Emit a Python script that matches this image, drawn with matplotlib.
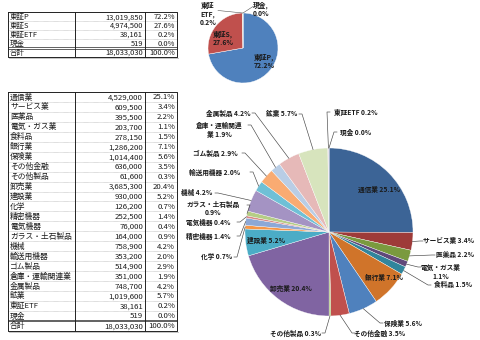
import matplotlib
matplotlib.use("Agg")
import matplotlib.pyplot as plt
import numpy as np

plt.rcParams['font.family'] = ['Noto Sans CJK JP', 'DejaVu Sans']

# ---------------- data ----------------
market_labels = ['東証P', '東証S', '東証ETF', '現金']
market_values = [13019850, 4974500, 38161, 519]

sector_labels = ['通信業', 'サービス業', '医薬品', '電気・ガス業', '食料品', '銀行業',
                 '保険業', 'その他金融', 'その他製品', '卸売業', '建設業', '化学',
                 '精密機器', '電気機器', 'ガラス・土石製品', '機械', '輸送用機器',
                 'ゴム製品', '倉庫・運輸関連業', '金属製品', '鉱業', '東証ETF', '現金']
sector_values = [4529000, 609500, 395500, 203700, 278150, 1286200,
                 1014400, 636000, 61600, 3685300, 930000, 126200,
                 252500, 76000, 164000, 758900, 353200,
                 514900, 351000, 748700, 1019600, 38161, 519]
total_label = '合計'

# ---------------- styles / layout ----------------
market_colors = ['#4F81BD', '#C0504D', '#9BBB59', '#8064A2']
sector_colors = ['#3C6496', '#9E3B39', '#7A9A3E', '#60497A', '#31859C', '#D0742A',
                 '#4F81BD', '#C0504D', '#9BBB59', '#8064A2', '#4BACC6', '#F79646',
                 '#8DA8D6', '#D98886', '#B5CD85', '#A493C3', '#6FC0D6', '#F9AB72',
                 '#B9CDE5', '#E6B9B8', '#D7E4BD', '#CCC1DA', '#B7DEE8']

W, H = 480, 340
fig = plt.figure(figsize=(4.8, 3.4), dpi=100)
ax = fig.add_axes([0, 0, 1, 1])


def Y(py):
    return H - py


TXT = '#1a1a1a'


def draw_table(y0, row_h, names, values, fs):
    total = sum(values)
    cols = [8, 75, 145, 177]
    allnames = list(names) + [total_label]
    allvals = list(values) + [total]
    n = len(allnames)
    for i, (nm, v) in enumerate(zip(allnames, allvals)):
        yc = y0 + (i + 0.55) * row_h
        ax.text(cols[0] + 2, Y(yc), nm, ha='left', va='center', fontsize=fs, color=TXT)
        ax.text(cols[2] - 2, Y(yc), f"{v:,}", ha='right', va='center', fontsize=fs, color=TXT)
        ax.text(cols[3] - 2, Y(yc), f"{v / total * 100:.1f}%", ha='right', va='center',
                fontsize=fs, color=TXT)
    y1 = y0 + n * row_h
    for i in range(1, n - 1):
        yy = Y(y0 + i * row_h)
        ax.plot([cols[0], cols[3]], [yy, yy], color='#9a9a9a', lw=0.4, ls=(0, (1, 1)))
    yt = y0 + (n - 1) * row_h
    ax.plot([cols[0], cols[3]], [Y(yt - 0.6), Y(yt - 0.6)], color='#222', lw=0.5)
    ax.plot([cols[0], cols[3]], [Y(yt + 0.6), Y(yt + 0.6)], color='#222', lw=0.5)
    for c in cols[1:3]:
        ax.plot([c, c], [Y(y0), Y(y1)], color='#222', lw=0.7)
    ax.plot([cols[0], cols[3], cols[3], cols[0], cols[0]],
            [Y(y0), Y(y0), Y(y1), Y(y1), Y(y0)], color='#222', lw=0.7)
    ax.plot([cols[0] + 1, cols[3] + 1], [Y(y1 + 1), Y(y1 + 1)], color='#bbbbbb', lw=0.6)


draw_table(12.3, 8.9, market_labels, market_values, 5.4)
draw_table(92.0, 9.95, sector_labels, sector_values, 5.6)

# ---------------- small pie ----------------
mtot = sum(market_values)
c1 = (243, Y(48))
r1 = 35
w1, _ = ax.pie(market_values, colors=market_colors, startangle=90, counterclock=False,
               center=c1, radius=r1, frame=True,
               wedgeprops=dict(edgecolor='white', linewidth=0.3))

small_layout = [  # text centre (px), line start (px) or None, wrapped name
    ((264, 61.5), None, None),
    ((223, 38), None, None),
    ((208, 14), (218, 10.5), '東証\nETF'),
    ((261, 9), (253, 6.5), None),
]
for i, (nm, v) in enumerate(zip(market_labels, market_values)):
    (tx, ty), ls, wrapped = small_layout[i]
    name = wrapped if wrapped else nm
    txt = f"{name},\n{v / mtot * 100:.1f}%"
    ax.text(tx, Y(ty), txt, ha='center', va='center', fontsize=4.9, fontweight='bold',
            color='#1a1a1a', linespacing=1.15)
    if ls is not None:
        w = w1[i]
        mid = np.deg2rad((w.theta1 + w.theta2) / 2)
        ex, ey = c1[0] + r1 * np.cos(mid), c1[1] + r1 * np.sin(mid)
        ax.plot([ls[0], ex], [Y(ls[1]), ey], color='#555', lw=0.4)

# ---------------- big pie ----------------
stot = sum(sector_values)
c2 = (329, Y(232))
r2 = 84
w2, _ = ax.pie(sector_values, colors=sector_colors, startangle=90, counterclock=False,
               center=c2, radius=r2, frame=True,
               wedgeprops=dict(edgecolor='white', linewidth=0.25))

big_layout = [  # text centre (px), line start (px) or None, line-break rule
    ((379, 189), None, None),
    ((449, 241), (423, 241), None),
    ((455, 255), (435, 255), None),
    ((441, 272), (421, 267), 'pct'),
    ((453, 284), (431, 285), None),
    ((384, 277), None, None),
    ((403, 323), (383, 323), None),
    ((380, 333), (355, 333), None),
    ((296, 333), (322, 333), None),
    ((291, 288), None, None),
    ((266, 240), None, None),
    ((217, 257), (234, 257), None),
    ((208, 236), (237, 236), None),
    ((208, 222), (237, 222), None),
    ((213, 208.5), (247, 205), 'pct'),
    ((197, 193), (215, 193), None),
    ((215, 172), (250, 172), None),
    ((215, 153), (242, 153), None),
    ((219, 130), (248, 125), 7),
    ((228, 113), (252, 113), None),
    ((282, 113), (299, 114), None),
    ((356, 112), (330, 112), None),
    ((356, 132), (337, 132), None),
]

for i, (nm, v) in enumerate(zip(sector_labels, sector_values)):
    (tx, ty), ls, brk = big_layout[i]
    pct = f"{v / stot * 100:.1f}%"
    if brk == 'pct':
        txt = f"{nm}\n{pct}"
    elif isinstance(brk, int):
        txt = f"{nm[:brk]}\n{nm[brk:]} {pct}"
    else:
        txt = f"{nm} {pct}"
    ax.text(tx, Y(ty), txt, ha='center', va='center', fontsize=4.8, fontweight='bold',
            color='#1a1a1a', linespacing=1.3)
    if ls is not None:
        w = w2[i]
        mid = np.deg2rad((w.theta1 + w.theta2) / 2)
        ex, ey = c2[0] + r2 * np.cos(mid), c2[1] + r2 * np.sin(mid)
        sx, sy = ls[0], Y(ls[1])
        stub = 3 if ex > sx else -3
        ax.plot([sx, sx + stub, ex], [sy, sy, ey], color='#444', lw=0.45)

ax.set_xlim(0, W)
ax.set_ylim(0, H)
ax.set_aspect('auto')
ax.axis('off')

fig.savefig('out.png', dpi=100, facecolor='white')
